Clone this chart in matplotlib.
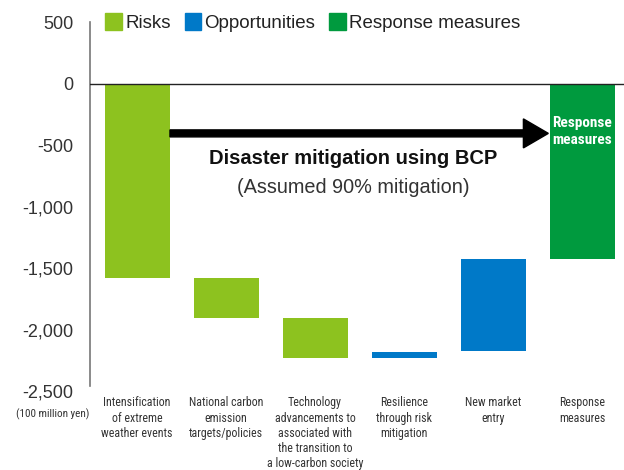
import matplotlib.pyplot as plt
from matplotlib.patches import Patch
from matplotlib.font_manager import FontProperties, fontManager

# data (100 million yen)
categories = ["Intensification\nof extreme\nweather events",
              "National carbon\nemission\ntargets/policies",
              "Technology\nadvancements to\nassociated with\nthe transition to\na low-carbon society",
              "Resilience\nthrough risk\nmitigation",
              "New market\nentry",
              "Response\nmeasures"]
bar_top = [0, -1580, -1910, -2185, -1430, 0]
bar_bottom = [-1580, -1910, -2235, -2235, -2175, -1430]
kinds = ["Risks", "Risks", "Risks", "Opportunities", "Opportunities", "Response measures"]
yticks = [500, 0, -500, -1000, -1500, -2000, -2500]
ytick_labels = ["500", "0", "-500", "-1,000", "-1,500", "-2,000", "-2,500"]

colors = {"Risks": "#8dc21f", "Opportunities": "#0079c8", "Response measures": "#009a3e"}


def find_condensed(bold=False):
    prefs = ["LiberationSansNarrow", "RobotoCondensed", "OpenSansCondensed", "DejaVuSansCondensed"]
    files = [f.fname for f in fontManager.ttflist]
    for p in prefs:
        for fn in files:
            base = fn.split("/")[-1].replace("-", "").replace("_", "")
            if base.startswith(p):
                is_bold = "Bold" in base[len(p):]
                other = any(s in base[len(p):] for s in ["Italic", "Oblique", "Light", "Medium", "Black", "Thin", "Semi", "Extra"])
                if is_bold == bold and not other:
                    return FontProperties(fname=fn)
    return FontProperties(family="DejaVu Sans", stretch="condensed",
                          weight="bold" if bold else "normal")


cond = find_condensed()
cond_bold = find_condensed(bold=True)
plt.rcParams['font.family'] = ['Liberation Sans', 'DejaVu Sans']

fig = plt.figure(figsize=(6.24, 4.7), dpi=100)
ax = fig.add_axes([0.144, 0.168, 0.856, 0.785])

x = range(len(categories))
heights = [t - b for t, b in zip(bar_top, bar_bottom)]
ax.bar(x, heights, bottom=bar_bottom, width=0.73,
       color=[colors[k] for k in kinds], zorder=2)

ax.set_xlim(-0.53, 5.47)
ax.set_ylim(-2500, 500)
ax.set_yticks(yticks)
ax.set_yticklabels(ytick_labels, fontsize=13, color="#333333")
ax.tick_params(axis='y', length=0, pad=12)
ax.set_xticks(list(x))
ax.set_xticklabels(categories)
for lab in ax.get_xticklabels():
    lab.set_fontproperties(cond)
    lab.set_fontsize(8.6)
    lab.set_color("#333333")
    lab.set_linespacing(1.22)
ax.tick_params(axis='x', length=0, pad=3.8)

for s in ['top', 'right', 'bottom']:
    ax.spines[s].set_visible(False)
ax.spines['left'].set_color("#777777")
ax.spines['left'].set_linewidth(1.2)
ax.spines['left'].set_bounds(-2460, 500)
ax.axhline(0, color="#222222", lw=1.0, zorder=3)

t = ax.text(-0.946, -2690, "(100 million yen)", fontproperties=cond,
            color="#333333", ha='center', va='center', clip_on=False)
t.set_fontsize(8)

# arrow
ax.arrow(0.37, -405, 4.25 - 0.28, 0, width=57, head_width=236, head_length=0.28,
         length_includes_head=False, color="black", zorder=4)
ax.text(2.43, -607, "Disaster mitigation using BCP", fontsize=14.5,
        fontweight='bold', ha='center', va='center', color="#111111")
ax.text(2.43, -843, "(Assumed 90% mitigation)", fontsize=14.3,
        ha='center', va='center', color="#333333")
t = ax.text(5, -390, "Response\nmeasures", fontproperties=cond_bold,
            color="white", ha='center', va='center', linespacing=1.3, zorder=5)
t.set_fontsize(11)

handles = [Patch(color=colors[k]) for k in ["Risks", "Opportunities", "Response measures"]]
leg = ax.legend(handles, ["Risks", "Opportunities", "Response measures"],
                loc='upper left', bbox_to_anchor=(0.015, 1.045), ncol=3,
                frameon=False, fontsize=13.5, handlelength=0.9, handleheight=1.0,
                handletextpad=0.15, columnspacing=0.75, borderaxespad=0)
for tx in leg.get_texts():
    tx.set_color("#222222")

fig.savefig("out.png", dpi=100)
